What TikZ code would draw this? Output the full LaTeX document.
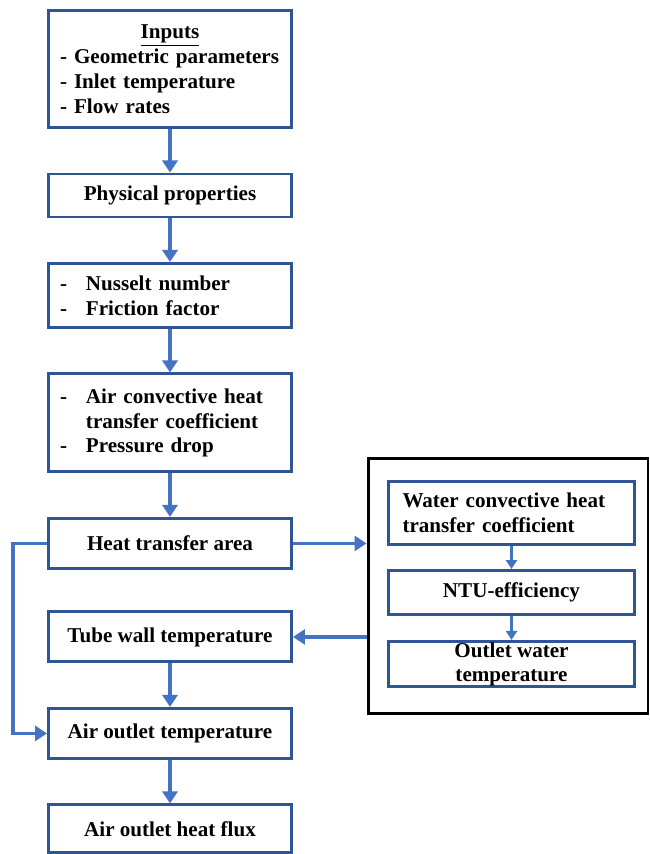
\documentclass[tikz,border=0pt]{standalone}
\usepackage{fontspec}
\setmainfont{Liberation Serif}
\usetikzlibrary{arrows.meta,positioning,fit,calc}
\definecolor{boxblue}{HTML}{2F5597}
\definecolor{linkblue}{HTML}{4472C4}
\setlength{\parindent}{0pt}
\newcommand{\dashitem}{\makebox[0.52cm][l]{-}}
\tikzset{
  stepbox/.style={
    rectangle, draw=boxblue, line width=1.7pt,
    minimum width=4.86cm, minimum height=#1,
    font=\fontsize{12}{14.2}\selectfont\bfseries, align=center,
    inner sep=4pt
  },
  stepbox/.default=1cm,
  listbox/.style={stepbox=#1, align=left, text width=4.4cm,
    inner xsep=0.23cm},
  waterbox/.style={stepbox=#1, minimum width=4.92cm},
  framebox/.style={rectangle, draw=black, line width=1.7pt, inner sep=0pt},
  flowarrow/.style={
    -{Triangle[length=0.24cm,width=0.3cm]}, line width=2pt, draw=linkblue
  },
  smallarrow/.style={
    -{Triangle[length=0.18cm,width=0.22cm]}, line width=1.5pt, draw=linkblue
  },
}

\begin{document}
\begin{tikzpicture}[node distance=0.87cm]
\useasboundingbox (0,0) rectangle (12.98,-17.08);
% main column
\node[listbox=2.34cm] (inputs) at (3.4,-1.38)
  {\makebox[4.4cm]{\underline{Inputs}}\\- Geometric parameters\\- Inlet temperature\\- Flow rates};
\node[stepbox=0.86cm, below=of inputs] (props) {Physical properties};
\node[listbox=1.28cm, below=of props] (nusselt)
  {\dashitem Nusselt number\\\dashitem Friction factor};
\node[listbox=1.96cm, below=of nusselt] (airconv)
  {\dashitem Air convective heat\\\hspace*{0.52cm}transfer coefficient\\\dashitem Pressure drop};
\node[stepbox, below=of airconv] (area) {Heat transfer area};
\node[stepbox, below=0.81cm of area] (wall) {Tube wall temperature};
\node[stepbox, below=of wall] (airout) {Air outlet temperature};
\node[stepbox=0.96cm, below=of airout] (flux) {Air outlet heat flux};
% water side
\node[waterbox=1.26cm, align=left, text width=4.36cm, inner xsep=0.28cm] (water) at (10.23,-10.26)
  {Water convective heat\\transfer coefficient};
\node[waterbox=0.88cm, below=0.46cm of water] (ntu) {NTU-efficiency};
\node[waterbox=0.9cm, inner ysep=0pt, below=0.48cm of ntu,
  font=\fontsize{12}{13.6}\selectfont\bfseries] (outw) {Outlet water\\temperature};
\coordinate (fr1) at ($(water.north west)+(-0.38,0.44)$);
\coordinate (fr2) at ($(outw.south east)+(0.24,-0.52)$);
\node[framebox, fit=(fr1)(fr2)] (ntubox) {};
% connectors
\draw[flowarrow] (inputs) -- (props);
\draw[flowarrow] (props) -- (nusselt);
\draw[flowarrow] (nusselt) -- (airconv);
\draw[flowarrow] (airconv) -- (area);
\draw[flowarrow] (wall) -- (airout);
\draw[flowarrow] (airout) -- (flux);
\draw[flowarrow] (area.east) -- (ntubox.west |- area.east);
\draw[flowarrow] (ntubox.west |- wall.east) -- (wall.east);
\draw[flowarrow] (area.west) -- ++(-0.68,0) |- (airout.west);
\draw[smallarrow] (water) -- (ntu);
\draw[smallarrow] (ntu) -- (outw);
\end{tikzpicture}
\end{document}
